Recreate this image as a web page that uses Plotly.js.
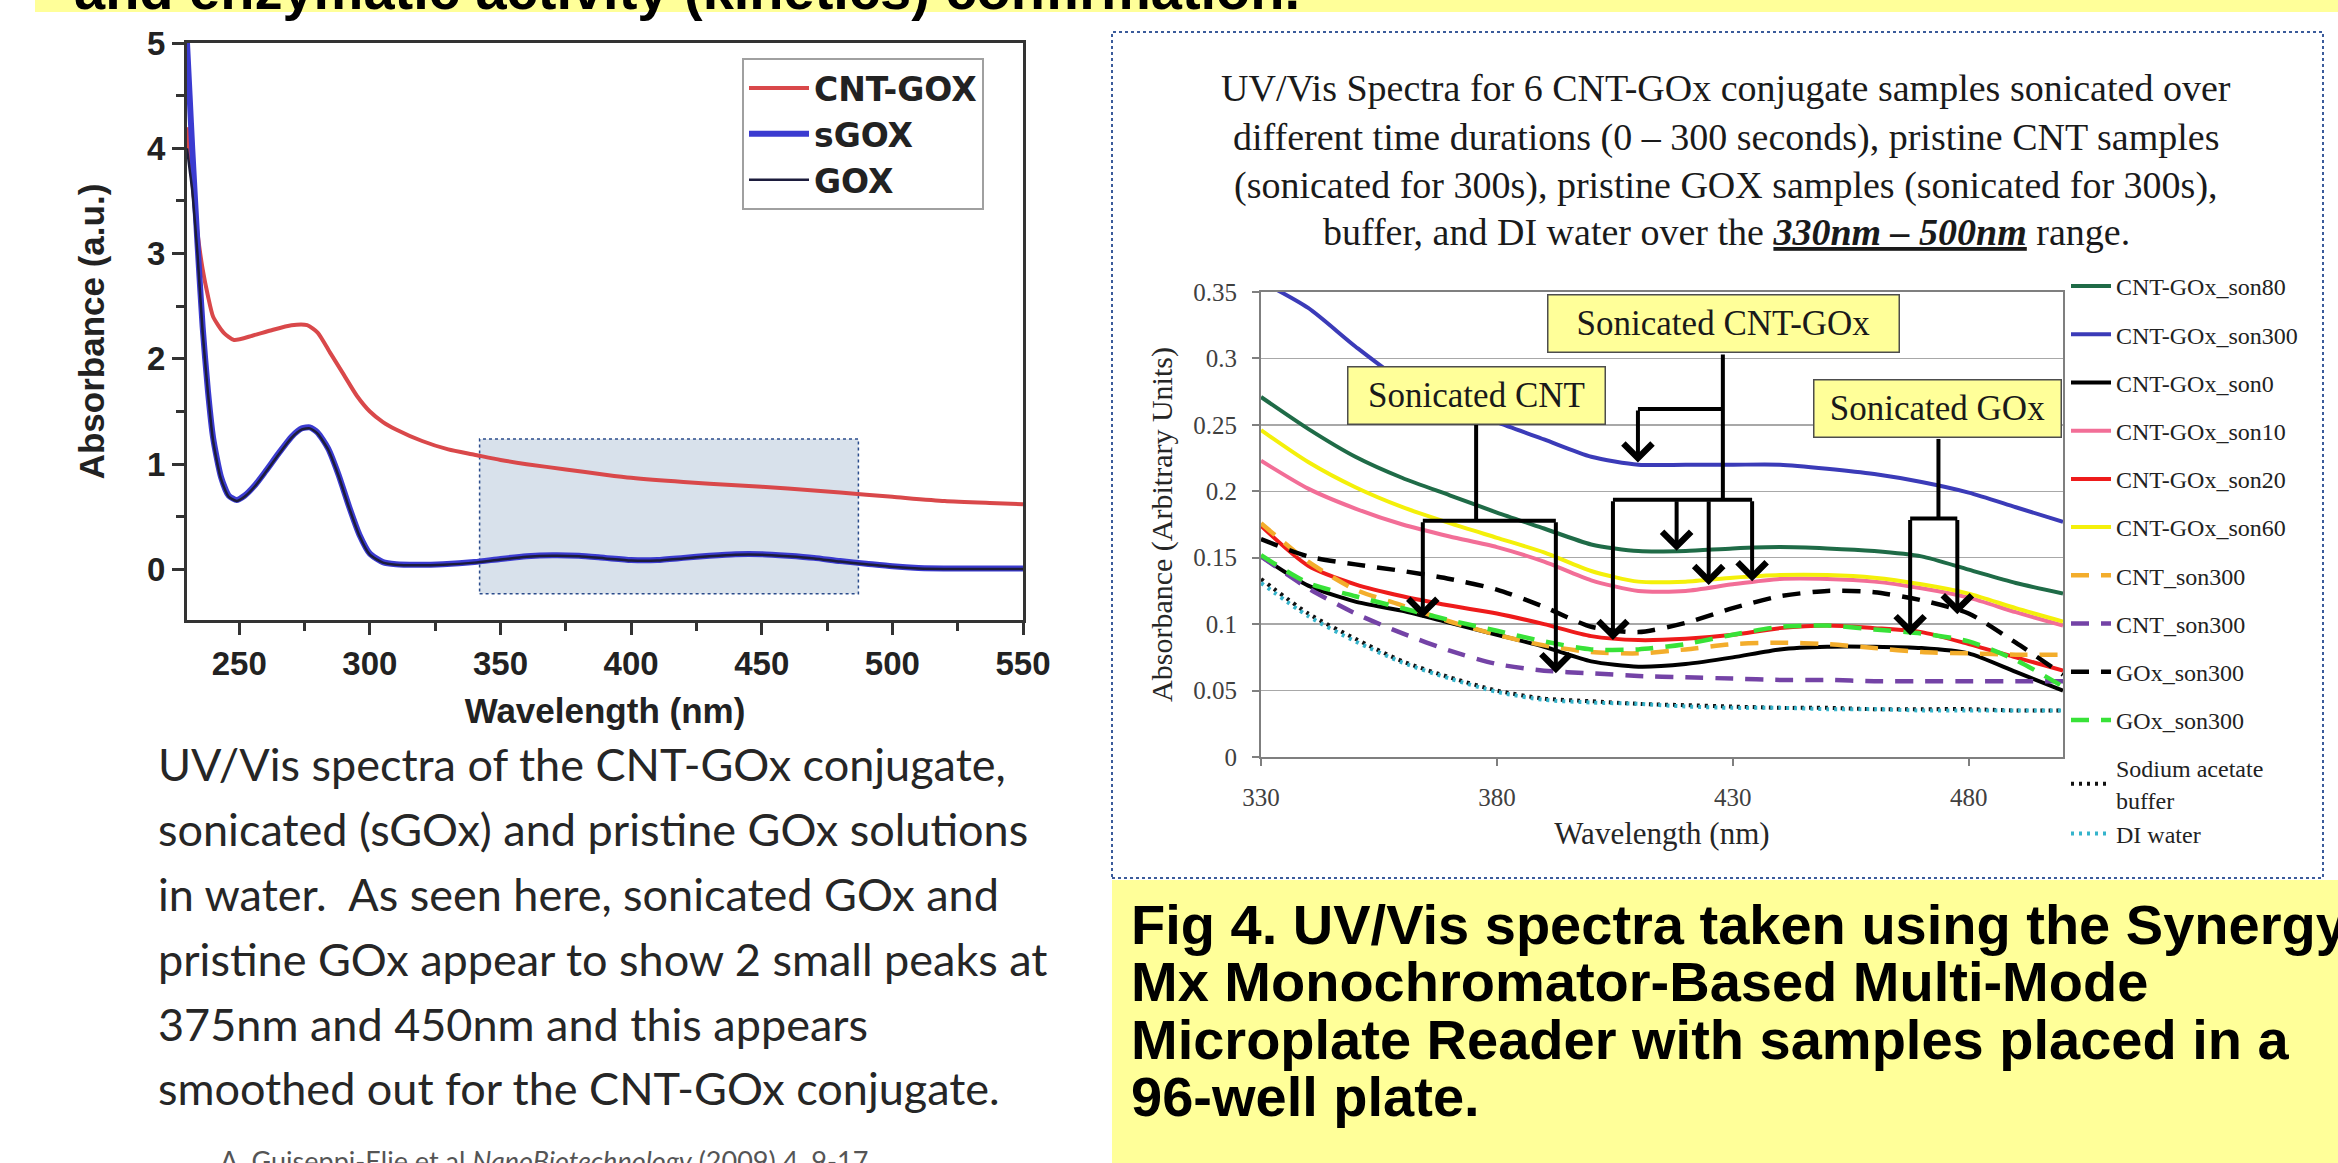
<!DOCTYPE html>
<html>
<head>
<meta charset="utf-8">
<script src="https://cdn.plot.ly/plotly-3.0.1.min.js"></script>
<style>
  html, body { margin: 0; padding: 0; background: #ffffff; }
  #chart { width: 2338px; height: 1163px; }
</style>
</head>
<body>
<div id="chart"></div>
<script>
const W = 2338, H = 1163;

// ---------------- Left chart: CNT-GOX / sGOX / GOX (230–550 nm) ----------------
const leftNames = ["CNT-GOX", "sGOX", "GOX"];
const cntGoxWavelength = [230,232,234,236,238,240,244,248,255,262,270,276,280,285,290,295,300,305,310,320,330,340,350,360,375,390,400,420,440,460,480,500,520,540,550];
const cntGoxAbsorbance = [4.2,3.7,3.2,2.85,2.6,2.4,2.25,2.18,2.22,2.27,2.32,2.32,2.25,2.05,1.85,1.65,1.5,1.4,1.33,1.22,1.14,1.09,1.04,1.0,0.95,0.9,0.87,0.83,0.8,0.77,0.73,0.69,0.65,0.63,0.62];
const goxWavelength = [230,231,232,234,236,238,240,243,246,249,252,256,260,265,270,274,277,280,284,288,292,296,300,305,310,318,328,340,350,360,370,380,390,400,410,420,430,440,450,460,470,480,490,500,510,525,550];
const sGoxAbsorbance = [5.0,4.5,4.0,3.1,2.3,1.7,1.25,0.88,0.7,0.66,0.7,0.8,0.93,1.1,1.26,1.34,1.35,1.3,1.15,0.9,0.6,0.33,0.15,0.07,0.05,0.045,0.05,0.07,0.1,0.125,0.135,0.13,0.11,0.09,0.09,0.11,0.13,0.145,0.145,0.13,0.11,0.08,0.055,0.03,0.015,0.01,0.01];
const goxAbsorbance = [4.0,3.8,3.6,3.0,2.25,1.68,1.22,0.86,0.69,0.65,0.69,0.79,0.92,1.09,1.25,1.33,1.34,1.29,1.14,0.89,0.59,0.32,0.14,0.065,0.045,0.04,0.045,0.065,0.095,0.12,0.13,0.125,0.105,0.085,0.085,0.105,0.125,0.14,0.14,0.125,0.105,0.075,0.05,0.025,0.01,0.005,0.005];
const leftXTicks = [250,300,350,400,450,500,550];
const leftYTicks = [0,1,2,3,4,5];
const highlightRange = {x: [342, 487], y: [-0.23, 1.24]};

// ---------------- Right chart: 6 CNT-GOx conjugates + controls (330–500 nm) ----------------
const rightWavelength = [330,340,350,360,370,380,390,400,410,420,430,440,450,460,470,480,490,500];
const rightNames = ["CNT-GOx_son80","CNT-GOx_son300","CNT-GOx_son0","CNT-GOx_son10","CNT-GOx_son20","CNT-GOx_son60","CNT_son300","CNT_son300","GOx_son300","GOx_son300","Sodium acetate<br>buffer","DI water"];
const son80  = [.271,.247,.226,.210,.197,.184,.172,.160,.155,.155,.157,.158,.157,.155,.151,.141,.131,.123];
const son300 = [.358,.338,.309,.283,.267,.252,.239,.226,.220,.220,.220,.220,.217,.213,.207,.199,.188,.177];
const son0   = [.151,.129,.117,.110,.101,.092,.083,.072,.068,.070,.075,.081,.083,.083,.082,.078,.064,.050];
const son10  = [.223,.202,.187,.175,.166,.158,.147,.133,.125,.125,.130,.134,.134,.132,.127,.120,.109,.099];
const son20  = [.174,.144,.130,.121,.114,.108,.100,.091,.088,.089,.092,.097,.099,.097,.094,.085,.075,.065];
const son60  = [.246,.222,.203,.188,.176,.165,.154,.140,.132,.132,.135,.137,.137,.135,.130,.123,.112,.102];
const cntSon300Orange = [.176,.147,.126,.114,.102,.092,.084,.079,.078,.081,.085,.086,.085,.082,.079,.078,.077,.077];
const cntSon300Purple = [.151,.127,.108,.093,.080,.070,.065,.063,.061,.060,.059,.058,.058,.057,.057,.057,.057,.057];
const goxSon300Black  = [.164,.151,.145,.140,.134,.126,.113,.098,.094,.101,.112,.121,.125,.124,.118,.108,.086,.062];
const goxSon300Green  = [.152,.131,.121,.112,.103,.095,.087,.081,.081,.085,.092,.098,.099,.096,.093,.087,.073,.053];
const acetateBuffer   = [.134,.108,.089,.072,.060,.050,.044,.042,.040,.039,.038,.037,.037,.036,.036,.036,.035,.035];
const diWater         = [.131,.106,.087,.071,.059,.049,.043,.041,.040,.038,.037,.037,.036,.036,.035,.035,.035,.035];
const rightXTicks = [330,380,430,480];

// callout boxes and their arrows (wavelength, absorbance)
const callouts = [
  {label: "Sonicated CNT-GOx", at: [428.0, 0.326], w: 346, h: 52,
   stem: [[427.9, 0.303], [427.9, 0.1936]],
   branches: [[[427.9, 0.262], [409.9, 0.262]], [[404.6, 0.1936], [434.1, 0.1936]]],
   arrows: [[409.9, 0.262, 0.2216], [404.6, 0.1936, 0.088], [418.1, 0.1936, 0.1552], [424.9, 0.1936, 0.1294], [434.1, 0.1936, 0.1322]]},
  {label: "Sonicated CNT", at: [375.6, 0.272], w: 252, h: 52,
   stem: [[375.6, 0.2504], [375.6, 0.1778]],
   branches: [[[364.3, 0.1778], [392.5, 0.1778]]],
   arrows: [[364.3, 0.1778, 0.1048], [392.5, 0.1778, 0.0631]]},
  {label: "Sonicated GOx", at: [473.4, 0.2624], w: 242, h: 52,
   stem: [[473.6, 0.2394], [473.6, 0.1795]],
   branches: [[[467.6, 0.1795], [477.6, 0.1795]]],
   arrows: [[467.6, 0.1795, 0.0917], [477.6, 0.1795, 0.1075]]}
];

// ---------------- helpers ----------------
const px = x => x / W;           // pixel -> paper x
const py = y => 1 - y / H;       // pixel -> paper y
const SANS = "Liberation Sans", SERIF = "Liberation Serif", CAL = "Lato", WIDE = "DejaVu Sans";

// ---------------- traces ----------------
const traces = [
  {x: cntGoxWavelength, y: cntGoxAbsorbance, name: leftNames[0], type: "scatter", mode: "lines",
   line: {color: "#d9484a", width: 4, shape: "spline", smoothing: 0.6}, xaxis: "x", yaxis: "y", legend: "legend"},
  {x: goxWavelength, y: sGoxAbsorbance, name: leftNames[1], type: "scatter", mode: "lines",
   line: {color: "#3b3bd0", width: 6, shape: "spline", smoothing: 0.6}, xaxis: "x", yaxis: "y", legend: "legend"},
  {x: goxWavelength, y: goxAbsorbance, name: leftNames[2], type: "scatter", mode: "lines",
   line: {color: "#1c1c3c", width: 2.5, shape: "spline", smoothing: 0.6}, xaxis: "x", yaxis: "y", legend: "legend"}
];

const rightSeries = [son80, son300, son0, son10, son20, son60, cntSon300Orange, cntSon300Purple, goxSon300Black, goxSon300Green, acetateBuffer, diWater];
const rightStyles = [
  {color: "#1f6b47", width: 4, dash: "solid"},
  {color: "#3b3bb8", width: 4, dash: "solid"},
  {color: "#000000", width: 4, dash: "solid"},
  {color: "#f26e97", width: 4, dash: "solid"},
  {color: "#ee1b1b", width: 4, dash: "solid"},
  {color: "#f4f00a", width: 4, dash: "solid"},
  {color: "#f3ad2c", width: 4.5, dash: "18px,12px"},
  {color: "#7443a6", width: 4.5, dash: "18px,12px"},
  {color: "#000000", width: 4.5, dash: "18px,12px"},
  {color: "#38e238", width: 4.5, dash: "18px,12px"},
  {color: "#111111", width: 4, dash: "3px,5px"},
  {color: "#35b4cc", width: 4, dash: "3px,5px"}
];
rightSeries.forEach((vals, i) => {
  traces.push({
    x: rightWavelength, y: vals, name: rightNames[i], type: "scatter", mode: "lines",
    line: Object.assign({shape: "spline", smoothing: 0.7}, rightStyles[i]),
    xaxis: "x2", yaxis: "y2", legend: "legend2",
    legendgroup: "g" + Math.min(i, 10)
  });
});

// ---------------- shapes ----------------
const shapes = [
  {type: "rect", xref: "paper", yref: "paper", x0: px(35), x1: 1, y0: py(12), y1: 1,
   fillcolor: "#ffff99", line: {width: 0}, layer: "below"},
  {type: "rect", xref: "paper", yref: "paper", x0: px(1112), x1: 1, y0: 0, y1: py(880),
   fillcolor: "#ffff99", line: {width: 0}, layer: "below"},
  {type: "rect", xref: "paper", yref: "paper", x0: px(1112), x1: px(2323), y0: py(878), y1: py(32),
   fillcolor: "rgba(0,0,0,0)", line: {color: "#3b5b9b", width: 2, dash: "dot"}},
  {type: "rect", xref: "x", yref: "y", x0: highlightRange.x[0], x1: highlightRange.x[1],
   y0: highlightRange.y[0], y1: highlightRange.y[1],
   fillcolor: "#d8e1eb", line: {color: "#2b4c8c", width: 1.5, dash: "dot"}, layer: "below"}
];
callouts.forEach(c => {
  const segs = [c.stem].concat(c.branches);
  segs.forEach(s => shapes.push({type: "line", xref: "x2", yref: "y2",
    x0: s[0][0], y0: s[0][1], x1: s[1][0], y1: s[1][1], line: {color: "#000", width: 4}}));
});

// ---------------- annotations ----------------
const annotations = [];
function txt(text, x, y, font, xanchor, yanchor) {
  annotations.push({text, x: px(x), y: py(y), xref: "paper", yref: "paper", showarrow: false,
    xanchor: xanchor || "left", yanchor: yanchor || "middle", align: xanchor === "center" ? "center" : "left", font});
}
// top banner (cut off by the top edge, as in the source slide)
txt("<b>and enzymatic activity (kinetics) confirmation.</b>", 72, -11, {family: SANS, size: 56, color: "#000"});

// left paragraph
const paraFont = {family: CAL, size: 45, color: "#262626"};
const paragraph = [
  "UV/Vis spectra of the CNT-GOx conjugate,",
  "sonicated (sGOx) and pristine GOx solutions",
  "in water.  As seen here, sonicated GOx and",
  "pristine GOx appear to show 2 small peaks at",
  "375nm and 450nm and this appears",
  "smoothed out for the CNT-GOx conjugate."
];
const paraY = [764, 829, 894, 959, 1024, 1088];
paragraph.forEach((t, i) => txt(t, 156, paraY[i], paraFont));
annotations.push({text: "A. Guiseppi-Elie et al <i>NanoBiotechnology</i> (2009) 4, 9-17", x: px(218), y: py(1142),
  xref: "paper", yref: "paper", showarrow: false, xanchor: "left", yanchor: "top",
  font: {family: CAL, size: 27, color: "#555"}});

// right figure title
const titleFont = {family: SERIF, size: 38, color: "#1a1a1a"};
const titleLines = [
  "UV/Vis Spectra for 6 CNT-GOx conjugate samples sonicated over",
  "different time durations (0 – 300 seconds), pristine CNT samples",
  "(sonicated for 300s), pristine GOX samples (sonicated for 300s),",
  "buffer, and DI water over the <b><i><span style=\"text-decoration:underline\">330nm – 500nm</span></i></b> range."
];
const titleY = [88, 137, 185, 232];
titleLines.forEach((t, i) => txt(t, 1726, titleY[i], titleFont, "center"));

// caption
const capFont = {family: SANS, size: 56, color: "#000", weight: "bold"};
const caption = [
  "Fig 4. UV/Vis spectra taken using the Synergy",
  "Mx Monochromator-Based Multi-Mode",
  "Microplate Reader with samples placed in a",
  "96-well plate."
];
const capY = [924, 981, 1039, 1096];
caption.forEach((t, i) => txt("<b>" + t + "</b>", 1129, capY[i], capFont));

// callout boxes + arrows
callouts.forEach(c => {
  annotations.push({text: c.label, x: c.at[0], y: c.at[1], xref: "x2", yref: "y2", showarrow: false,
    xanchor: "center", yanchor: "middle", width: c.w, height: c.h, bgcolor: "#ffff99",
    bordercolor: "#4d4d4d", borderwidth: 1.5, borderpad: 2,
    font: {family: SERIF, size: 35, color: "#1a1a1a"}});
  c.arrows.forEach(a => annotations.push({text: "", x: a[0], y: a[2], xref: "x2", yref: "y2",
    ax: a[0], ay: a[1], axref: "x2", ayref: "y2", showarrow: true,
    arrowhead: 4, arrowsize: 1.4, arrowwidth: 4, arrowcolor: "#000", standoff: 0}));
});

// ---------------- layout ----------------
const boldSans = (size) => ({family: SANS, size, color: "#222", weight: "bold"});
const serif = (size, color) => ({family: SERIF, size, color: color || "#404040"});

const layout = {
  width: W, height: H,
  margin: {l: 0, r: 0, t: 0, b: 0},
  paper_bgcolor: "#ffffff", plot_bgcolor: "#ffffff",
  showlegend: true,
  xaxis: {
    domain: [px(187), px(1023)], range: [230, 550], anchor: "y",
    tickmode: "array", tickvals: leftXTicks, ticktext: leftXTicks.map(String),
    ticks: "outside", ticklen: 12, tickwidth: 3, tickcolor: "#333",
    minor: {ticks: "outside", tickmode: "linear", tick0: 225, dtick: 50, ticklen: 8, tickwidth: 3, tickcolor: "#333"},
    showline: true, linecolor: "#333", linewidth: 3, mirror: true,
    showgrid: false, zeroline: false, tickfont: boldSans(33),
    title: {text: "Wavelength (nm)", font: boldSans(35), standoff: 18}
  },
  yaxis: {
    domain: [py(620), py(43)], range: [-0.48, 5], anchor: "x",
    tickmode: "array", tickvals: leftYTicks, ticktext: leftYTicks.map(String),
    ticks: "outside", ticklen: 12, tickwidth: 3, tickcolor: "#333",
    minor: {ticks: "outside", tickmode: "linear", tick0: 0.5, dtick: 1, ticklen: 8, tickwidth: 3, tickcolor: "#333"},
    showline: true, linecolor: "#333", linewidth: 3, mirror: true,
    showgrid: false, zeroline: false, tickfont: boldSans(33),
    title: {text: "Absorbance (a.u.)", font: boldSans(35), standoff: 32}
  },
  xaxis2: {
    domain: [px(1261), px(2063)], range: [330, 500], anchor: "y2",
    tickmode: "array", tickvals: rightXTicks, ticktext: rightXTicks.map(String),
    ticks: "outside", ticklen: 7, tickwidth: 2, tickcolor: "#7f7f7f",
    showline: true, linecolor: "#7f7f7f", linewidth: 2, mirror: true,
    showgrid: false, zeroline: false, tickfont: serif(25), ticklabelstandoff: 10,
    title: {text: "Wavelength (nm)", font: serif(31, "#262626"), standoff: 12}
  },
  yaxis2: {
    domain: [py(757), py(292)], range: [0, 0.35], anchor: "x2",
    tickmode: "linear", tick0: 0, dtick: 0.05,
    ticks: "outside", ticklen: 7, tickwidth: 2, tickcolor: "#7f7f7f",
    showline: true, linecolor: "#7f7f7f", linewidth: 2, mirror: true,
    showgrid: true, gridcolor: "#a8a8a8", gridwidth: 1.5, zeroline: false,
    tickfont: serif(25), ticklabelstandoff: 10,
    title: {text: "Absorbance (Arbitrary Units)", font: serif(30, "#262626"), standoff: 12}
  },
  legend: {
    x: px(742), y: py(58), xanchor: "left", yanchor: "top",
    bgcolor: "#ffffff", bordercolor: "#a0a0a0", borderwidth: 2,
    font: {family: WIDE, size: 33, color: "#222", weight: "bold"}, itemwidth: 60, tracegroupgap: 0
  },
  legend2: {
    x: px(2066), y: py(264), xanchor: "left", yanchor: "top",
    bgcolor: "rgba(0,0,0,0)", borderwidth: 0,
    font: {family: SERIF, size: 24, color: "#222"}, itemwidth: 40, tracegroupgap: 14,
    traceorder: "grouped"
  },
  shapes, annotations
};

Plotly.newPlot("chart", traces, layout, {displayModeBar: false, staticPlot: true});
</script>
</body>
</html>
